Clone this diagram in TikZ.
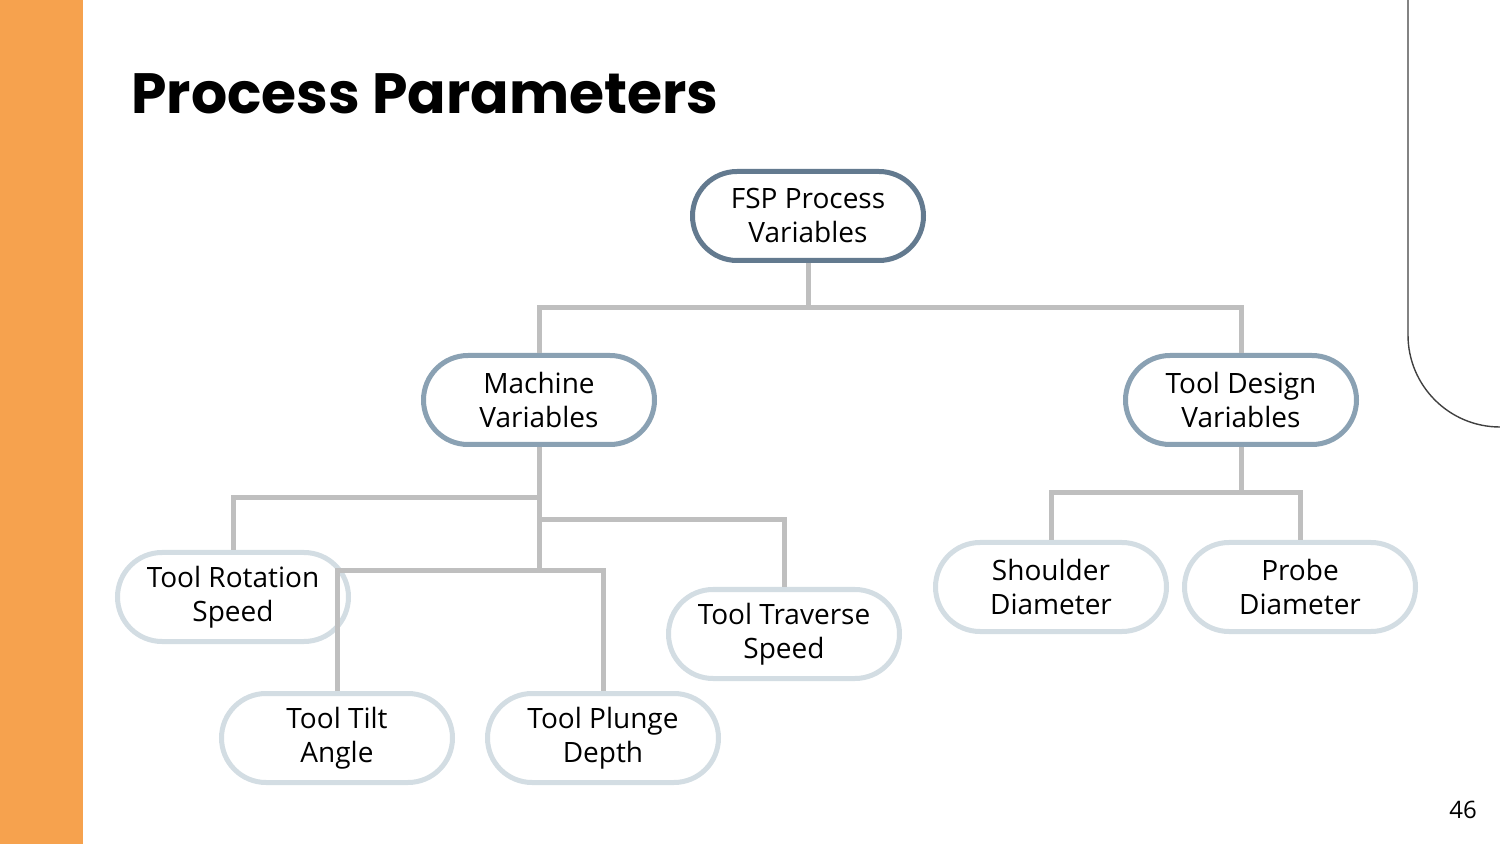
\documentclass[tikz,border=0pt]{standalone}
\usepackage{fontspec}
\setmainfont{Open Sans}
\newfontfamily\titlefont{Poppins}
\usepackage{tikz}
\usetikzlibrary{positioning}
\definecolor{barorange}{HTML}{F6A24E}
\definecolor{rootline}{HTML}{637A8F}
\definecolor{midline}{HTML}{8AA1B3}
\definecolor{leafline}{HTML}{D3DDE3}
\definecolor{linkgray}{HTML}{BFBFBF}
\tikzstyle{pill} = [rectangle, rounded corners=22.25pt, fill=white, line width=2.5pt, minimum width=115.5pt, minimum height=44.5pt, align=center, inner sep=0pt, font=\fontsize{14}{17}\selectfont]
\tikzstyle{rootbox} = [pill, draw=rootline]
\tikzstyle{midbox} = [pill, draw=midline]
\tikzstyle{leafbox} = [pill, draw=leafline]
\tikzstyle{link} = [draw=linkgray, line width=2.5pt]

\begin{document}
\begin{tikzpicture}[x=0.5pt, y=-0.5pt]
			\useasboundingbox (0,0) rectangle (1500,844);
			\fill[barorange] (0,0) rectangle (83,844);
			\draw[black!75, line width=0.7pt] (1408,0) -- (1408,335) arc[start angle=180, end angle=270, radius=46pt];
			\node[anchor=base west, inner sep=0pt, font=\titlefont\bfseries\fontsize{28.4}{34}\selectfont] (title) at (131,114) {Process Parameters};
			\node[anchor=base, font=\fontsize{12}{14}\selectfont] (page) at (1463,818) {46};
			
			\node[rootbox]               (fsp)    at (808,216)  {FSP Process\\Variables};
			\node[midbox]                (mach)   at (539,400)  {Machine\\Variables};
			\node[midbox]                (tdes)   at (1241,400) {Tool Design\\Variables};
			\node[leafbox]               (rot)    at (233,597)  {Tool Rotation\\Speed};
			\node[leafbox]               (tilt)   at (337,738)  {Tool Tilt\\Angle};
			\node[leafbox]               (plunge) at (603,738)  {Tool Plunge\\Depth};
			\node[leafbox]               (trav)   at (784,634)  {Tool Traverse\\Speed};
			\node[leafbox]               (shou)   at (1051,587) {Shoulder\\Diameter};
			\node[leafbox]               (probe)  at (1300,587) {Probe\\Diameter};
			\coordinate (bus)  at (808,308);
			\coordinate (m1)   at (539,498);
			\coordinate (m2)   at (539,520);
			\coordinate (m3)   at (539,571);
			\coordinate (t1)   at (1241,493);
			
			\draw[link] (fsp) -- (bus);
			\draw[link] (mach.north) |- (bus) -| (tdes.north);
			\draw[link] (mach) -- (m3);
			\draw[link] (m1) -| (rot.north);
			\draw[link] (m2) -| (trav.north);
			\draw[link] (m3) -| (tilt.north);
			\draw[link] (m3) -| (plunge.north);
			\draw[link] (tdes) -- (t1);
			\draw[link] (shou.north) |- (t1) -| (probe.north);
			
		\end{tikzpicture}
\end{document}
